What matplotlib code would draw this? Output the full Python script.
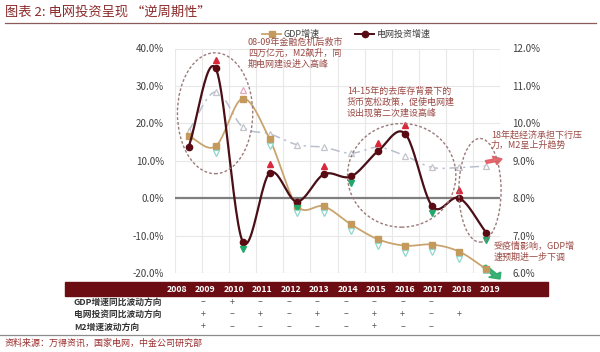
import numpy as np
import matplotlib
matplotlib.use('Agg')
import matplotlib.pyplot as plt
from matplotlib.patches import Ellipse, Rectangle, FancyArrow
from matplotlib.lines import Line2D
from matplotlib import transforms

plt.rcParams['font.family'] = ['Noto Sans CJK SC', 'DejaVu Sans']

# ---------------- data ----------------
years = ['2008', '2009', '2010', '2011', '2012', '2013', '2014', '2015', '2016', '2017', '2018', '2019']
grid_inv = [13.6, 34.7, -11.6, 6.8, -0.9, 6.4, 5.8, 12.6, 17.2, -2.2, 0.0, -9.3]   # left axis, %
gdp = [9.66, 9.39, 10.66, 9.57, 7.80, 7.78, 7.30, 6.90, 6.73, 6.76, 6.57, 6.10]     # right axis, %
m2 = [18.0, 28.4, 19.0, 17.2, 14.3, 13.6, 12.0, 13.6, 11.3, 8.2, 8.2, 8.6]          # left axis, %
grid_dir = [0, 1, -1, 1, -1, 1, -1, 1, 1, -1, 1, -1]
gdp_dir = [0, -1, 1, -1, -1, -1, -1, -1, -1, -1, -1, -1]
left_ticks = [-20, -10, 0, 10, 20, 30, 40]
right_ticks = [6, 7, 8, 9, 10, 11, 12]
row_labels = ['GDP增速同比波动方向', '电网投资同比波动方向', 'M2增速波动方向']
row_gdp = ['', '–', '+', '–', '–', '–', '–', '–', '–', '–', '', '']
row_grid = ['', '+', '–', '+', '–', '+', '–', '+', '+', '–', '+', '']
row_m2 = ['', '+', '–', '–', '–', '–', '–', '+', '–', '–', '', '']

W, H = 600, 352


def fx(px):
    return px / W


def fy(py):
    return 1 - py / H


def smooth(y, n=24):
    y = np.asarray(y, float)
    N = len(y)
    xs, ys = [], []
    for i in range(N - 1):
        m0 = (y[i + 1] - y[i - 1]) / 2 if i > 0 else (y[1] - y[0])
        m1 = (y[i + 2] - y[i]) / 2 if i + 2 < N else (y[N - 1] - y[N - 2])
        t = np.linspace(0, 1, n, endpoint=False)
        h00 = 2 * t**3 - 3 * t**2 + 1
        h10 = t**3 - 2 * t**2 + t
        h01 = -2 * t**3 + 3 * t**2
        h11 = t**3 - t**2
        ys.append(h00 * y[i] + h10 * m0 + h01 * y[i + 1] + h11 * m1)
        xs.append(i + t)
    xs.append(np.array([N - 1]))
    ys.append(np.array([y[-1]]))
    return np.concatenate(xs), np.concatenate(ys)


fig = plt.figure(figsize=(6, 3.52), dpi=100)
fig.patch.set_facecolor('white')

ax = fig.add_axes([fx(175), fy(273), fx(500) - fx(175), fy(48.5) - fy(273)])
ax2 = ax.twinx()
x = np.arange(len(years))
ax.set_xlim(-0.5, len(years) - 0.5)
ax.set_ylim(-20, 40)
ax2.set_ylim(6, 12)

for a in (ax, ax2):
    for s in a.spines.values():
        s.set_visible(False)
ax.set_xticks([])
ax.set_xticks(np.arange(-0.5, len(years), 1), minor=True)
ax.tick_params(axis='x', which='both', length=0)
ax.grid(which='minor', axis='x', color='#e8e8e8', lw=0.8)
ax.set_yticks(left_ticks)
ax.set_yticklabels([f'{v:.1f}%' for v in left_ticks])
ax.grid(axis='y', color='#e8e8e8', lw=0.8)
ax.set_axisbelow(True)
ax2.set_yticks(right_ticks)
ax2.set_yticklabels([f'{v:.1f}%' for v in right_ticks])
ax.tick_params(axis='y', length=0, pad=8, labelsize=7, colors='#404040')
ax2.tick_params(axis='y', length=0, pad=9, labelsize=7, colors='#404040')
ax.axhline(0, color='#7f7f7f', lw=1.6, zorder=1)

# M2 dashed line
sx, sy = smooth(m2)
ax.plot(sx, sy, color='#b8c0cc', lw=1.1, ls=(0, (6, 3, 1.5, 3)), zorder=2)
ax.plot(x, m2, ls='none', marker='^', ms=4.5, mfc='white', mec='#c4c4cc', mew=0.9, zorder=3)

# GDP line (right axis)
sx, sy = smooth(gdp)
ax2.plot(sx, sy, color='#c9a46e', lw=1.3, zorder=3)
ax2.plot(x, gdp, ls='none', marker='s', ms=4, mfc='#c39a5c', mec='#c39a5c', zorder=4)

# grid investment line
sx, sy = smooth(grid_inv)
ax2.set_zorder(ax.get_zorder() + 1)
ax2.patch.set_visible(False)
ax2.plot(*[sx, (np.array(sy) / 10 + 8)], color='#4a0e16', lw=1.6, zorder=5)
ax2.plot(x, np.array(grid_inv) / 10 + 8, ls='none', marker='o', ms=4.5, mfc='#5a0a12', mec='#5a0a12', zorder=6)

# direction triangles
up_t = transforms.offset_copy(ax2.transData, fig=fig, x=0, y=6, units='points')
dn_t = transforms.offset_copy(ax2.transData, fig=fig, x=0, y=-5, units='points')
for i in range(len(years)):
    gv = grid_inv[i] / 10 + 8
    if grid_dir[i] > 0:
        ax2.plot(i, gv, marker='^', ms=5, color='#d9283b', transform=up_t, zorder=7)
    elif grid_dir[i] < 0:
        ax2.plot(i, gv, marker='v', ms=5, color='#22a86b', transform=dn_t, zorder=7)
    if gdp_dir[i] > 0:
        ax2.plot(i, gdp[i], marker='^', ms=5, mfc='white', mec='#e3a9bb', mew=0.9, transform=up_t, zorder=7)
    elif gdp_dir[i] < 0:
        ax2.plot(i, gdp[i], marker='v', ms=5, mfc='white', mec='#8fd6cc', mew=0.9, transform=dn_t, zorder=7)

# dashed ellipses (in left-axis data coordinates)
ell_kw = dict(fill=False, edgecolor='#9a7a78', lw=1.0, ls=(0, (2, 1.5)), clip_on=False, zorder=8)
ax2.add_patch(Ellipse((0.98, 22.7 / 10 + 8), 2.78, 3.23, **ell_kw))
ax2.add_patch(Ellipse((7.87, 6.1 / 10 + 8), 4.0, 2.77, **ell_kw))
ax2.add_patch(Ellipse((10.76, 2.1 / 10 + 8), 1.56, 2.77, **ell_kw))

# annotations
ann_c = '#9b4a45'
fig.text(fx(248), fy(53), '08-09年金融危机后救市\n四万亿元，M2飙升，同\n期电网建设进入高峰',
         fontsize=6.5, color=ann_c, va='center', linespacing=1.25)
fig.text(fx(347), fy(102), '14-15年的去库存背景下的\n货币宽松政策，促使电网建\n设出现第二次建设高峰',
         fontsize=6.5, color=ann_c, va='center', linespacing=1.2)
fig.text(fx(491), fy(140), '18年起经济承担下行压\n力，M2呈上升趋势',
         fontsize=6.5, color=ann_c, va='center', linespacing=1.25)
fig.text(fx(494), fy(252), '受疫情影响，GDP增\n速预期进一步下调',
         fontsize=6.5, color=ann_c, va='center', linespacing=1.25)

fig.add_artist(FancyArrow(fx(486), fy(162), fx(16), -(fy(0) - fy(-3)), width=0.008, head_width=0.025,
                          head_length=0.013, length_includes_head=True, color='#e25a63',
                          transform=fig.transFigure, alpha=0.9))
fig.add_artist(FancyArrow(fx(484), fy(266), fx(16), -(fy(0) - fy(13)), width=0.008, head_width=0.025,
                          head_length=0.015, length_includes_head=True, color='#27a867',
                          transform=fig.transFigure, alpha=0.9))

# legend
ly = fy(34)
fig.add_artist(Line2D([fx(262), fx(281)], [ly, ly], color='#c9a46e', lw=1.3, transform=fig.transFigure))
fig.add_artist(Line2D([fx(271.5)], [ly], marker='s', ms=4, color='#c39a5c', transform=fig.transFigure))
fig.text(fx(284), ly, 'GDP增速', fontsize=6.5, color='#404040', va='center')
fig.add_artist(Line2D([fx(355), fx(374)], [ly, ly], color='#4a0e16', lw=1.4, transform=fig.transFigure))
fig.add_artist(Line2D([fx(364.5)], [ly], marker='o', ms=4.5, color='#5a0a12', transform=fig.transFigure))
fig.text(fx(377), ly, '电网投资增速', fontsize=6.5, color='#404040', va='center')

# title
fig.text(fx(5), fy(12), '图表 2: 电网投资呈现 “逆周期性”', fontsize=9.5, color='#8b2a2a',
         style='italic', va='center')
fig.add_artist(Line2D([fx(5), fx(596)], [fy(23), fy(23)], color='#8b5a5a', lw=0.9, transform=fig.transFigure))

# table
fig.add_artist(Rectangle((fx(65), fy(296)), fx(548) - fx(65), fy(282) - fy(296), color='#6b0d12',
                         transform=fig.transFigure))
col_x = np.linspace(177, 490, len(years))
for i, yr in enumerate(years):
    fig.text(fx(col_x[i]), fy(289), yr, fontsize=6.3, color='white', fontweight='bold',
             ha='center', va='center')
rows = [row_gdp, row_grid, row_m2]
row_y = [302, 314, 327]
for lab, vals, ry in zip(row_labels, rows, row_y):
    fig.text(fx(74), fy(ry), lab, fontsize=6.3, color='#333333', fontweight='bold', va='center')
    for i, v in enumerate(vals):
        if v:
            fig.text(fx(col_x[i] - 2), fy(ry), v, fontsize=6.5, color='#555555', ha='center', va='center')

fig.add_artist(Line2D([fx(0), fx(600)], [fy(335), fy(335)], color='#8c8c8c', lw=0.9, transform=fig.transFigure))
fig.text(fx(5), fy(343), '资料来源：万得资讯，国家电网，中金公司研究部', fontsize=6.5, color='#9b2c2c',
         style='italic', va='center')

fig.savefig('out.png', dpi=100)
